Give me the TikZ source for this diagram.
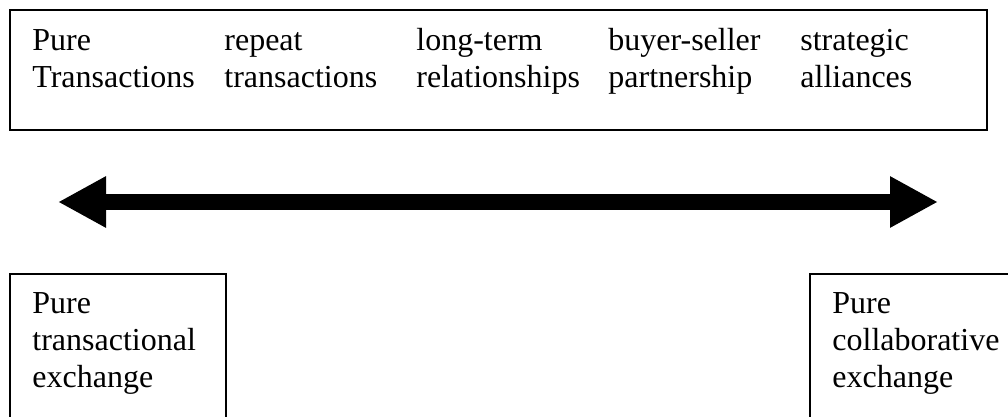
\documentclass[tikz,border=0pt]{standalone}
\usepackage{fontspec}
\setmainfont{Liberation Serif}
\usetikzlibrary{arrows.meta}
\begin{document}
\begin{tikzpicture}[x=0.5pt,y=-0.5pt,
  boxline/.style={draw=black,line width=1.3pt},
  label/.style={anchor=base west,inner sep=0pt,align=left,font=\fontsize{16}{18.5}\selectfont},
  bigarrow/.style={line width=8pt,{Triangle[length=24pt,width=24pt]}-{Triangle[length=24pt,width=24pt]}}]
\useasboundingbox (0,0) rectangle (1008,417);
\clip (0,0) rectangle (1008,417);
% top box
\draw[boxline] (10,10) rectangle (987,130);
\node[label] (c1) at (32,88) {Pure\\Transactions};
\node[label] (c2) at (224,88) {repeat\\transactions};
\node[label] (c3) at (416,88) {long-term\\relationships};
\node[label] (c4) at (608,88) {buyer-seller\\partnership};
\node[label] (c5) at (800,88) {strategic\\alliances};
% double arrow
\coordinate (aL) at (58,202);
\coordinate (aR) at (938,202);
\draw[bigarrow] (aL) -- (aR);
% bottom boxes
\draw[boxline] (10,430) -- (10,274) -- (226,274) -- (226,430);
\draw[boxline] (1020,274) -- (810,274) -- (810,430);
\node[label] (bl) at (32,387) {Pure\\transactional\\exchange};
\node[label] (br) at (832,387) {Pure\\collaborative\\exchange};
\end{tikzpicture}
\end{document}
